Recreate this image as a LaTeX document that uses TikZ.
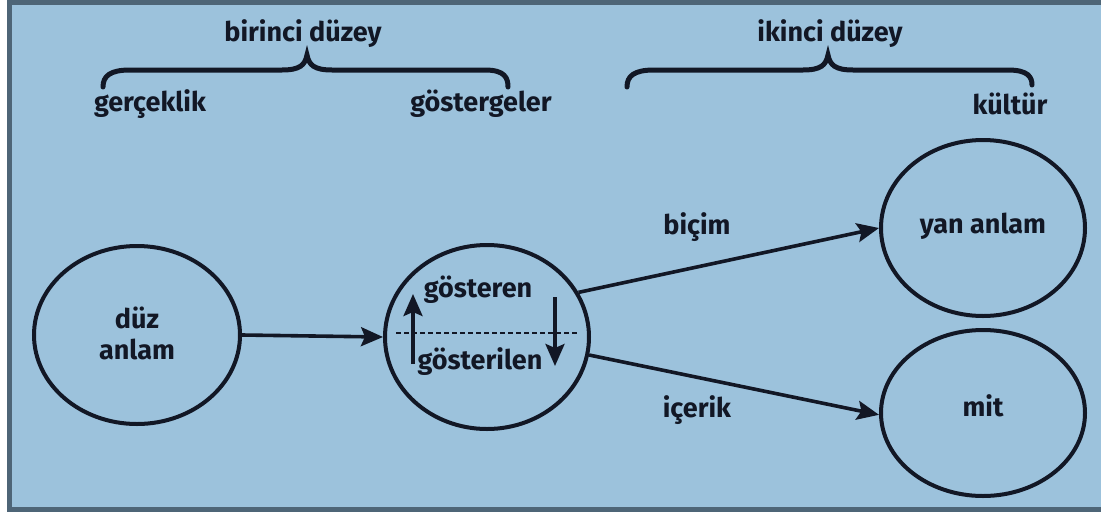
\documentclass[tikz,border=0pt]{standalone}
\usepackage{fontspec}
\setmainfont{Fira Sans}
\usetikzlibrary{shapes.geometric,arrows.meta}
\definecolor{bgblue}{HTML}{9CC2DC}
\definecolor{frame}{HTML}{4E6577}
\definecolor{ink}{HTML}{121725}
\tikzset{
  lbl/.style={text=ink,font=\fontsize{27}{31}\selectfont\bfseries,inner sep=0pt},
  circ/.style={ellipse,draw=ink,line width=4pt,inner sep=0pt},
  conn/.style={draw=ink,line width=3.6pt,-{Stealth[length=22pt,width=19pt,inset=4pt]}},
  brace/.style={draw=ink,line width=5pt,line cap=round},
}
\begin{document}
\begin{tikzpicture}[x=1pt,y=-1pt]
\useasboundingbox (0,0) rectangle (1101,512);
\fill[white] (0,0) rectangle (1101,512);
\filldraw[fill=bgblue,draw=frame,line width=5pt] (9.5,2.5) rectangle (1103,509.5);

% top labels
\node[lbl] (b1) at (303,34) {birinci düzey};
\node[lbl] (b2) at (830,34) {ikinci düzey};
\node[lbl] (gk) at (150,104) {gerçeklik};
\node[lbl] (gs) at (481,104) {göstergeler};
\node[lbl] (kt) at (1010,104) {kültür};

% braces
\draw[brace] (103,87) .. controls (103,76) and (110,70) .. (130,70) -- (282,70)
  .. controls (300,70) and (305,65) .. (307,55)
  .. controls (309,65) and (314,70) .. (332,70) -- (485,70)
  .. controls (505,70) and (508,78) .. (508,87);
\draw[brace] (627,87) .. controls (627,76) and (634,70) .. (654,70) -- (803,70)
  .. controls (821,70) and (826,65) .. (828,55)
  .. controls (830,65) and (835,70) .. (853,70) -- (1008,70)
  .. controls (1028,70) and (1032,77) .. (1032,85);

% circles
\node[circ,minimum width=206pt,minimum height=178pt] (duz) at (137,335) {};
\node[lbl,align=center] (duzt) at (137,333) {düz\\anlam};
\node[circ,minimum width=204pt,minimum height=184pt] (mid) at (487,337) {};
\node[circ,minimum width=204pt,minimum height=176pt] (yan) at (983,228) {};
\node[lbl] (yant) at (983,226) {yan anlam};
\node[circ,minimum width=204pt,minimum height=166pt] (mit) at (983,413) {};
\node[lbl] (mitt) at (983,406) {mit};

% inside middle circle
\node[lbl] (gst) at (478,290) {gösteren};
\node[lbl] (gsl) at (480,362) {gösterilen};
\coordinate (dl) at (396,333);
\coordinate (dr) at (579,333);
\draw[ink,line width=1.8pt,dash pattern=on 5pt off 3pt] (dl) -- (dr);
\coordinate (ua) at (413,364);
\coordinate (ub) at (413,294);
\coordinate (da) at (555,297);
\coordinate (db) at (555,366);
\draw[conn] (ua) -- (ub);
\draw[conn] (da) -- (db);

% connectors
\draw[conn] (duz.east) -- (mid.west);
\draw[conn] (mid.26) -- (yan.180);
\draw[conn] (mid.-10) -- (mit.181);
\node[lbl] (bic) at (697,227) {biçim};
\node[lbl] (ice) at (697,410) {içerik};
\end{tikzpicture}
\end{document}
